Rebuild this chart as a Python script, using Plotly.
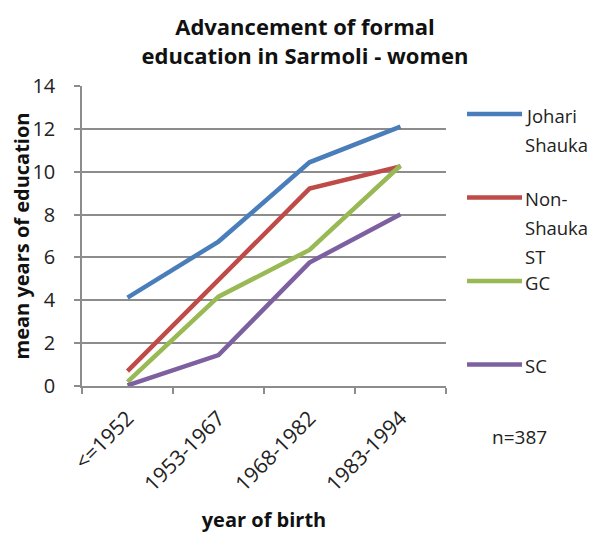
import plotly.graph_objects as go

categories = ["<=1952", "1953-1967", "1968-1982", "1983-1994"]
series_names = ["Johari<br>Shauka", "Non-<br>Shauka<br>ST", "GC", "SC"]
johari_shauka = [4.12, 6.74, 10.44, 12.10]
non_shauka_st = [0.69, 4.95, 9.21, 10.25]
gc = [0.19, 4.17, 6.35, 10.29]
sc = [0.03, 1.44, 5.76, 8.02]
colors = ["#4A7EBB", "#BE4B48", "#98B954", "#7D60A0"]

FONT = "Open Sans"
OFF = 8  # page body margin: figure is drawn 8px in from the window corner
W, H = 598 - OFF, 533 - OFF
L, R, T, B = 74, 152, 78, 147
PW, PH = W - L - R, H - T - B


def px_x(x):
    # window pixel -> paper fraction
    return (x - OFF - L) / PW


def px_y(y):
    return 1 - (y - OFF - T) / PH


fig = go.Figure()
for name, vals, col in zip(series_names, [johari_shauka, non_shauka_st, gc, sc], colors):
    fig.add_trace(go.Scatter(x=categories, y=vals, mode="lines", name=name.replace("<br>", " "),
                             line=dict(color=col, width=4.5), showlegend=False))

# hand-placed legend, Excel style (tall line spacing)
for i, (name, col) in enumerate(zip(series_names, colors)):
    ypx = 114 + i * 83.5
    fig.add_shape(type="line", xref="paper", yref="paper",
                  x0=px_x(467), x1=px_x(522), y0=px_y(ypx), y1=px_y(ypx),
                  line=dict(color=col, width=4.5))
    for j, part in enumerate(name.split("<br>")):
        fig.add_annotation(text=part, xref="paper", yref="paper",
                           x=px_x(523), y=px_y(ypx + 1 + 29 * j),
                           xanchor="left", yanchor="middle", align="left", showarrow=False,
                           font=dict(family=FONT, size=18.5, color="#222"))

fig.add_annotation(text="n=387", xref="paper", yref="paper",
                   x=px_x(519), y=px_y(437),
                   xanchor="center", yanchor="middle", showarrow=False,
                   font=dict(family=FONT, size=19, color="#222"))

fig.update_layout(
    width=W, height=H,
    margin=dict(l=L, r=R, t=T, b=B, autoexpand=False),
    paper_bgcolor="white", plot_bgcolor="white",
    font=dict(family=FONT, size=19, color="#222"),
    title=dict(text="<b>Advancement of formal<br>education in Sarmoli - women</b>",
               x=(305 - OFF) / W, xanchor="center", y=1 - (35 - OFF) / H, yanchor="middle",
               font=dict(family=FONT, size=22, color="#111")),
)
fig.update_xaxes(
    type="category", range=[-0.5, 3.5], tickangle=-45, automargin=False,
    showgrid=False, showline=True, linecolor="#8c8c8c", linewidth=1.5,
    ticks="outside", tickson="boundaries", ticklen=6, tickcolor="#8c8c8c", tickwidth=1.5,
    ticklabelstandoff=10,
    title=dict(text="<b>year of birth</b>", font=dict(family=FONT, size=20, color="#111"), standoff=24),
    tickfont=dict(family=FONT, size=21, color="#222"),
)
fig.update_yaxes(
    range=[0, 14], dtick=2, showgrid=True, gridcolor="#8c8c8c", gridwidth=1.5, automargin=False,
    showline=True, linecolor="#8c8c8c", linewidth=1.5,
    ticks="outside", ticklen=6, tickcolor="#8c8c8c", tickwidth=1.5, zeroline=False,
    ticklabelstandoff=15,
    title=dict(text="<b>mean years of education</b>", font=dict(family=FONT, size=20, color="#111"), standoff=2),
    tickfont=dict(family=FONT, size=20, color="#222"),
)

fig.write_html("out.html")
